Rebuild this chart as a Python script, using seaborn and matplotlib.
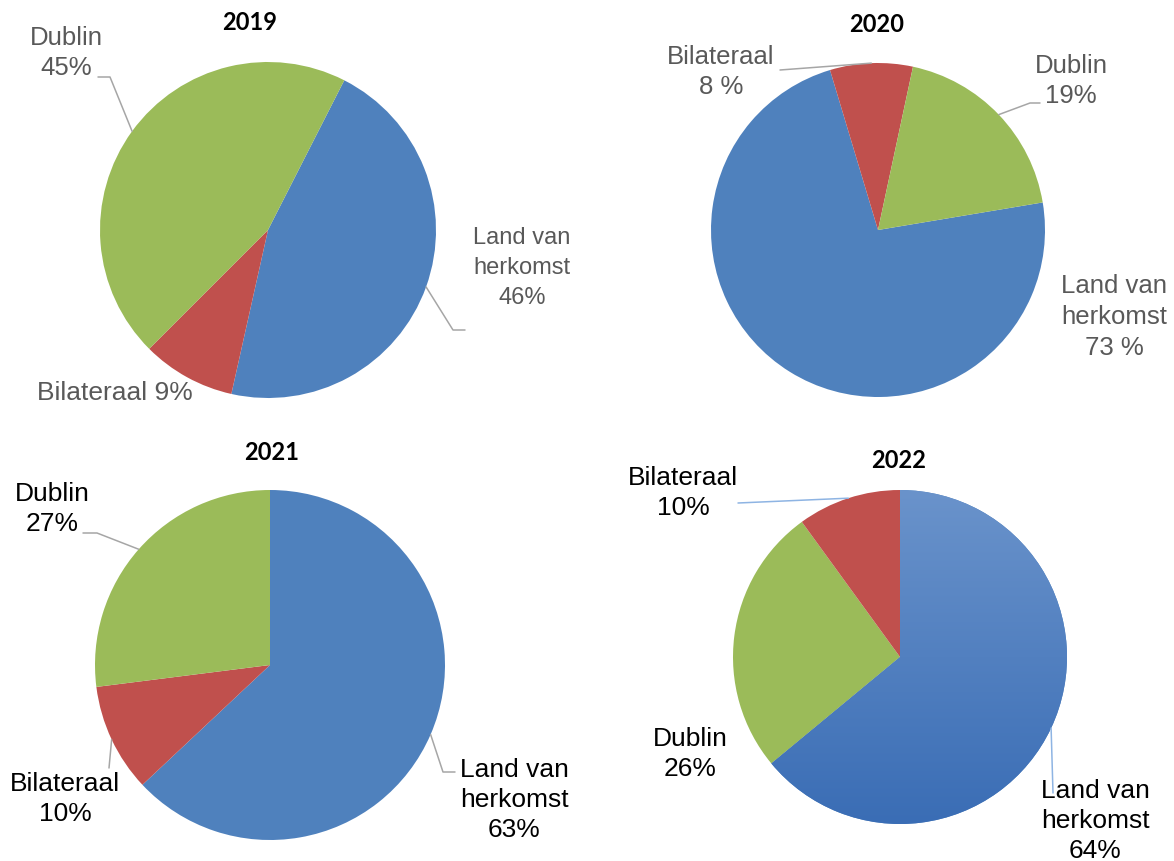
import numpy as np
import matplotlib.pyplot as plt
from matplotlib.colors import LinearSegmentedColormap
import seaborn as sns

sns.set_theme(style='white')
plt.rcParams['font.family'] = ['Liberation Sans', 'DejaVu Sans']

# shares per year, in clockwise drawing order
cats_2019 = ['Land van herkomst', 'Bilateraal', 'Dublin']
vals_2019 = [46, 9, 45]
text_2019 = ['Land van\nherkomst\n46%', 'Bilateraal 9%', 'Dublin\n45%']

cats_2020 = ['Land van herkomst', 'Bilateraal', 'Dublin']
vals_2020 = [73, 8, 19]
text_2020 = ['Land van\nherkomst\n73 %', 'Bilateraal\n8 %', 'Dublin\n19%']

cats_2021 = ['Land van herkomst', 'Bilateraal', 'Dublin']
vals_2021 = [63, 10, 27]
text_2021 = ['Land van\nherkomst\n63%', 'Bilateraal\n10%', 'Dublin\n27%']

cats_2022 = ['Land van herkomst', 'Dublin', 'Bilateraal']
vals_2022 = [64, 26, 10]
text_2022 = ['Land van\nherkomst\n64%', 'Dublin\n26%', 'Bilateraal\n10%']

pal = dict(zip(['Land van herkomst', 'Bilateraal', 'Dublin'],
               sns.color_palette(['#4F81BD', '#C0504D', '#9BBB59'])))

W, H = 1174, 861
fig = plt.figure(figsize=(W / 100, H / 100), dpi=100)
ax = fig.add_axes([0, 0, 1, 1])


def P(x, y):
    # pixel position (from top-left) -> data coords
    return x, H - y


# layout: label = (x, y, fontsize, leader points from label side to elbow)
panels = [
    dict(year='2019', cats=cats_2019, vals=vals_2019, text=text_2019,
         c=(268, 230), r=168, start=63, title=(250, 22),
         tcol='#595959', lcol='#A6A6A6',
         lab=[(522, 268, 17, [(465, 330), (453, 330)]),
              (115, 393, 19, None),
              (66, 53, 18.5, [(98, 77), (110, 77)])]),
    dict(year='2020', cats=cats_2020, vals=vals_2020, text=text_2020,
         c=(878, 230), r=167, start=9.5, title=(877, 25),
         tcol='#595959', lcol='#A6A6A6',
         lab=[(1114, 317, 18.5, None),
              (721, 72, 18.5, [(780, 70)]),
              (1071, 81, 18.5, [(1040, 103), (1030, 103)])]),
    dict(year='2021', cats=cats_2021, vals=vals_2021, text=text_2021,
         c=(270, 665), r=175, start=90, title=(272, 453),
         tcol='black', lcol='#A6A6A6',
         lab=[(514, 800, 19, [(455, 772), (443, 772)]),
              (65, 799, 19, [(109, 768)]),
              (52, 509, 19, [(83, 533), (97, 533)])]),
    dict(year='2022', cats=cats_2022, vals=vals_2022, text=text_2022,
         c=(900, 657), r=167, start=90, title=(899, 460),
         tcol='black', lcol='#8EB4E3',
         lab=[(1095, 821, 19, [(1053, 793)]),
              (690, 754, 19, None),
              (683, 493, 19, [(738, 503)])]),
]

for p in panels:
    cx, cy = P(*p['c'])
    r = p['r']
    wedges, _ = ax.pie(p['vals'], colors=[pal[c] for c in p['cats']],
                       startangle=p['start'], counterclock=False,
                       center=(cx, cy), radius=r,
                       wedgeprops=dict(linewidth=0))
    if p['year'] == '2022':
        # gradient fill on the blue slice
        grad = np.linspace(0, 1, 256).reshape(-1, 1)
        cmap = LinearSegmentedColormap.from_list('g', ['#3A6DB5', '#6A93CB'])
        im = ax.imshow(grad, extent=(cx - r, cx + r, cy - r, cy + r), origin='lower',
                       cmap=cmap, aspect='auto', zorder=1.5)
        im.set_clip_path(wedges[0])

    tx, ty = P(*p['title'])
    ax.text(tx, ty, p['year'], ha='center', va='center', fontsize=17,
            fontweight='bold', family=['Lato', 'DejaVu Sans'], color='black')

    for w, t, (lx, ly, fs, lead) in zip(wedges, p['text'], p['lab']):
        x, y = P(lx, ly)
        ls = 1.33 * 19 / fs
        ax.text(x, y, t, ha='center', va='center', multialignment='center',
                fontsize=fs, color=p['tcol'], linespacing=ls)
        if lead:
            th = np.deg2rad((w.theta1 + w.theta2) / 2)
            pts = [P(*q) for q in lead] + [(cx + r * np.cos(th), cy + r * np.sin(th))]
            xs, ys = zip(*pts)
            ax.plot(xs, ys, color=p['lcol'], lw=1.1, zorder=3)

ax.set_xlim(0, W)
ax.set_ylim(0, H)
ax.set_aspect('equal')
ax.axis('off')
fig.savefig('out.png', dpi=100)
